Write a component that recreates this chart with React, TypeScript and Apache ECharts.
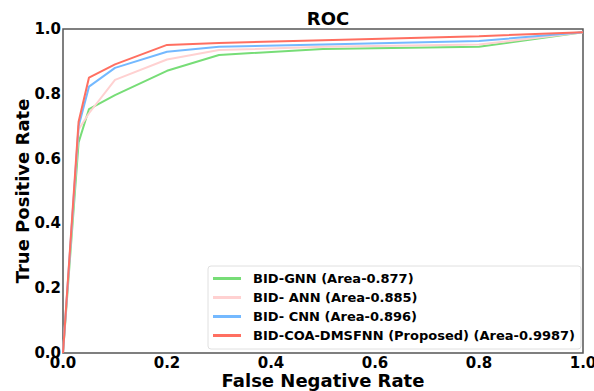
import React, { useEffect, useRef } from "react";
import * as echarts from "echarts";

const fnr = [0, 0.03, 0.05, 0.1, 0.2, 0.3, 0.5, 0.8, 1.0];
const gnn = [0, 0.65, 0.753, 0.796, 0.871, 0.92, 0.938, 0.945, 0.99];
const ann = [0, 0.69, 0.74, 0.843, 0.906, 0.935, 0.945, 0.952, 0.99];
const cnn = [0, 0.7, 0.822, 0.88, 0.93, 0.945, 0.952, 0.963, 0.99];
const proposed = [0, 0.714, 0.85, 0.891, 0.951, 0.957, 0.965, 0.978, 0.99];

const seriesNames = [
  "BID-GNN (Area-0.877)",
  "BID- ANN (Area-0.885)",
  "BID- CNN (Area-0.896)",
  "BID-COA-DMSFNN (Proposed) (Area-0.9987)",
];
const seriesColors = ["#77dd77", "#ffd1d1", "#74b9ff", "#ff6f61"];
const seriesValues = [gnn, ann, cnn, proposed];

const FONT = "DejaVu Sans";

export default function App() {
  const ref = useRef<HTMLDivElement>(null);
  useEffect(() => {
    const chart = echarts.init(ref.current!, null, { renderer: "svg" });
    chart.setOption({
      animation: false,
      backgroundColor: "#ffffff",
      title: {
        text: "ROC",
        left: 323,
        textAlign: "center",
        top: 4,
        textStyle: { fontFamily: FONT, fontWeight: "bold", fontSize: 18, color: "#000" },
      },
      grid: {
        left: 63,
        right: 11,
        top: 29,
        bottom: 38,
        outerBoundsMode: "none",
        containLabel: false,
        show: true,
        borderColor: "#555",
        borderWidth: 1.5,
        backgroundColor: "transparent",
      },
      legend: {
        orient: "vertical",
        left: 208,
        top: 266,
        padding: [5, 6, 6, 5],
        backgroundColor: "#fff",
        borderColor: "#e0e0e0",
        borderWidth: 1,
        borderRadius: 3,
        itemWidth: 28,
        itemHeight: 3,
        itemGap: 4,
        icon: "rect",
        data: seriesNames,
        textStyle: {
          fontFamily: FONT,
          fontWeight: "bold",
          fontSize: 13,
          color: "#000",
          lineHeight: 15,
          padding: [0, 0, 0, 7],
        },
      },
      xAxis: {
        type: "value",
        min: 0,
        max: 1,
        interval: 0.2,
        name: "False Negative Rate",
        nameLocation: "middle",
        nameGap: 18,
        nameMoveOverlap: false,
        nameTextStyle: { fontFamily: FONT, fontWeight: "bold", fontSize: 18, color: "#000" },
        axisLine: { show: false },
        axisTick: { show: false },
        splitLine: { show: false },
        axisLabel: {
          fontFamily: FONT,
          fontWeight: "bold",
          fontSize: 15,
          color: "#000",
          margin: 2,
          formatter: (v: number) => v.toFixed(1),
        },
      },
      yAxis: {
        type: "value",
        min: 0,
        max: 1,
        interval: 0.2,
        name: "True Positive Rate",
        nameLocation: "middle",
        nameRotate: 90,
        nameGap: 32,
        nameMoveOverlap: false,
        nameTextStyle: { fontFamily: FONT, fontWeight: "bold", fontSize: 18, color: "#000" },
        axisLine: { show: false },
        axisTick: { show: false },
        splitLine: { show: false },
        axisLabel: {
          fontFamily: FONT,
          fontWeight: "bold",
          fontSize: 15,
          color: "#000",
          margin: 2,
          formatter: (v: number) => v.toFixed(1),
        },
      },
      series: seriesNames.map((name, i) => ({
        name,
        type: "line",
        data: fnr.map((x, j) => [x, seriesValues[i][j]]),
        showSymbol: false,
        symbol: "none",
        color: seriesColors[i],
        lineStyle: { width: 2, color: seriesColors[i] },
        z: 2 + i,
      })),
    });
    return () => chart.dispose();
  }, []);
  return (
    <div
      ref={ref}
      style={{ position: "fixed", left: 0, top: 0, width: 594, height: 391 }}
    />
  );
}
